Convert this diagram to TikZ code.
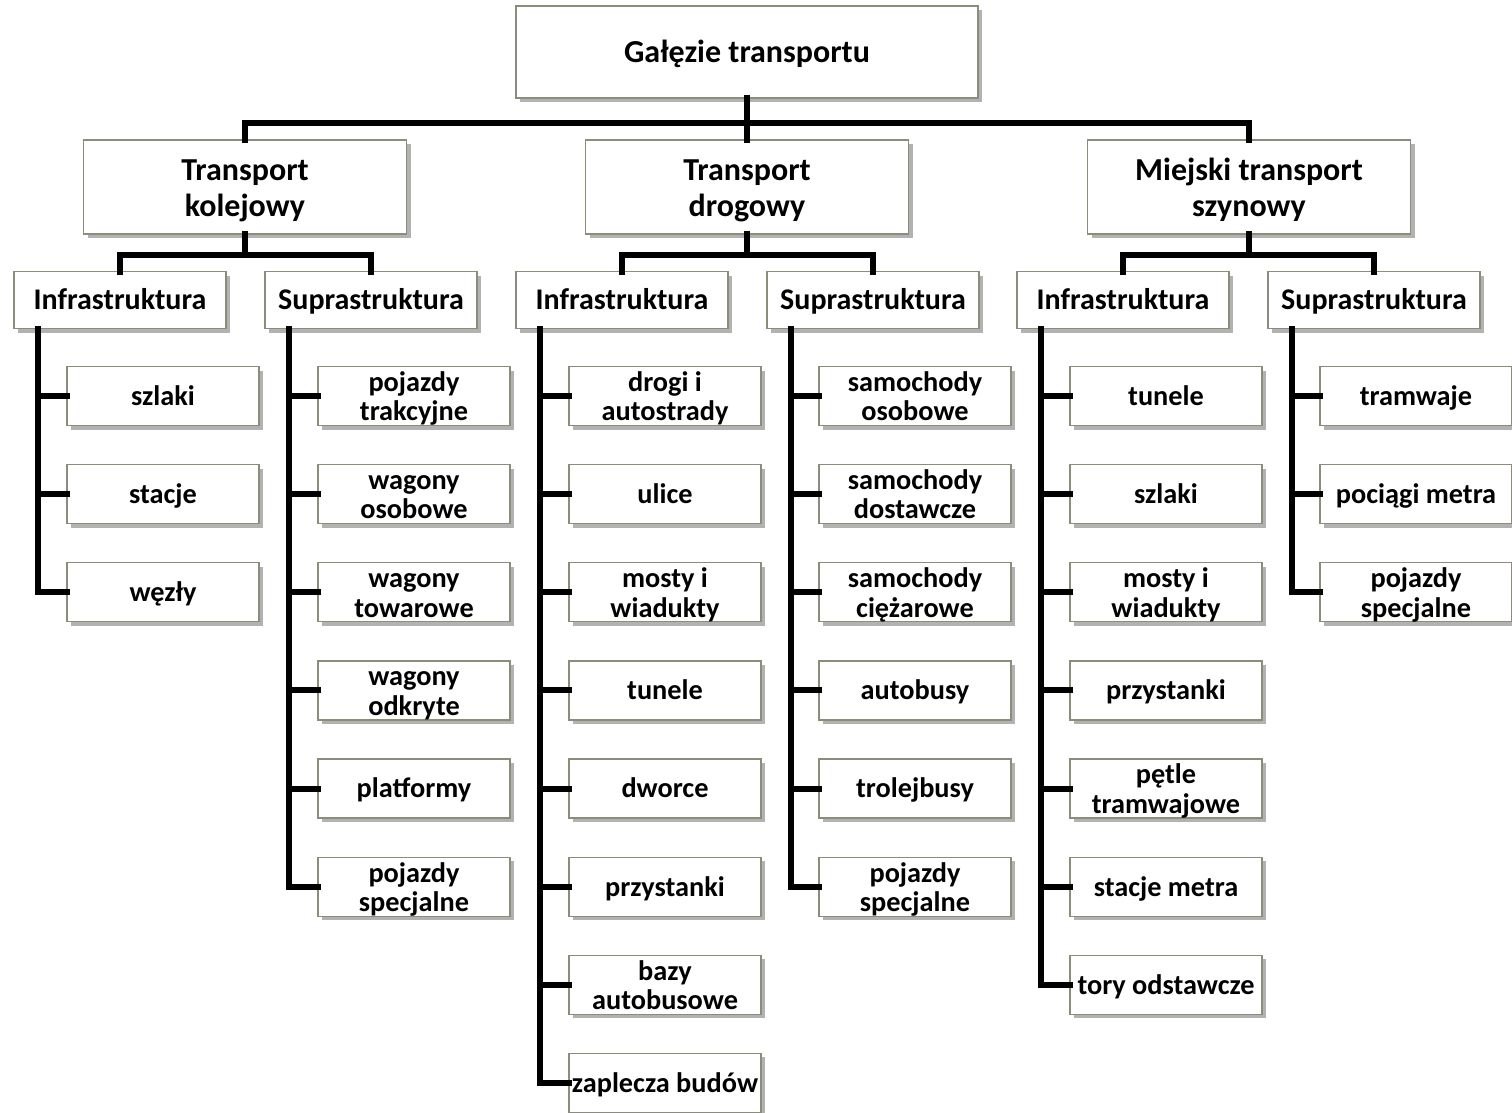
\documentclass[tikz,border=0pt]{standalone}
\usepackage{fontspec}
\setmainfont{Carlito}
\usetikzlibrary{shadows,calc}
\definecolor{boxline}{RGB}{140,140,122}
% strut that centres the cap height of each line block in its box
\newcommand{\capstrut}{\rule[-0.22em]{0pt}{1.1em}}
% two-line label, set a touch lower in its box
\newcommand{\twolines}[2]{\rule{0pt}{0.93em}#1\\#2}
\begin{document}
\begin{tikzpicture}[x=1pt,y=-1pt,
  box/.style={draw=boxline, line width=1.3pt, fill=white, inner xsep=0pt, inner ysep=-6pt,
    outer sep=0pt, align=center,
    execute at begin node=\capstrut, execute at end node=\capstrut,
    drop shadow={shadow xshift=4pt, shadow yshift=-4pt, fill=black, opacity=0.3}},
  rootbox/.style={box, minimum width=462, minimum height=92, font=\fontsize{32}{36}\selectfont\bfseries},
  branchbox/.style={box, minimum width=323, minimum height=94, font=\fontsize{32}{36}\selectfont\bfseries},
  catbox/.style={box, minimum width=212, minimum height=57, font=\fontsize{30}{33}\selectfont\bfseries},
  leafbox/.style={box, minimum width=192, minimum height=59, font=\fontsize{28.3}{29.5}\selectfont\bfseries},
  conn/.style={line width=6pt, line join=miter, line cap=rect}]
\useasboundingbox (0,0) rectangle (1512,1112);

% root and branches
\node[rootbox] (root) at (747,52) {Gałęzie transportu};
\node[branchbox] (rail) at (245,187) {\twolines{Transport}{kolejowy}};
\node[branchbox] (road) at (747,187) {\twolines{Transport}{drogowy}};
\node[branchbox] (city) at (1249,187) {\twolines{Miejski transport}{szynowy}};

\coordinate (bus) at (747,123);
\draw[conn] (root.south) -- (road.north);
\draw[conn] (rail.north) |- (bus) -| (city.north);

% categories
\node[catbox] (railI) at (120,300) {Infrastruktura};
\node[catbox] (railS) at (371,300) {Suprastruktura};
\node[catbox] (roadI) at (622,300) {Infrastruktura};
\node[catbox] (roadS) at (873,300) {Suprastruktura};
\node[catbox] (cityI) at (1123,300) {Infrastruktura};
\node[catbox] (cityS) at (1374,300) {Suprastruktura};

\foreach \b in {rail,road,city}{
  \coordinate (\b bus) at ($(\b.south)+(0,21)$);
  \draw[conn] (\b.south) -- (\b bus);
  \draw[conn] (\b I.north) |- (\b bus) -| (\b S.north);
}

% trunks below categories
\foreach \c in {railI,railS,roadI,roadS,cityI,cityS}{
  \coordinate (\c T) at ($(\c.south west)+(24,0)$);
}

% leaves
\foreach \t [count=\i] in {szlaki, stacje, węzły}{
  \node[leafbox] (railI\i) at (163,{396+98.14*(\i-1)}) {\t};
  \draw[conn] (railIT) |- (railI\i.west);
}
\foreach \t [count=\i] in {{\twolines{pojazdy}{trakcyjne}}, {\twolines{wagony}{osobowe}},
    {\twolines{wagony}{towarowe}}, {\twolines{wagony}{odkryte}}, platformy,
    {\twolines{pojazdy}{specjalne}}}{
  \node[leafbox] (railS\i) at (414,{396+98.14*(\i-1)}) {\t};
  \draw[conn] (railST) |- (railS\i.west);
}
\foreach \t [count=\i] in {{\twolines{drogi i}{autostrady}}, ulice, {\twolines{mosty i}{wiadukty}},
    tunele, dworce, przystanki, {\twolines{bazy}{autobusowe}}, zaplecza budów}{
  \node[leafbox] (roadI\i) at (665,{396+98.14*(\i-1)}) {\t};
  \draw[conn] (roadIT) |- (roadI\i.west);
}
\foreach \t [count=\i] in {{\twolines{samochody}{osobowe}}, {\twolines{samochody}{dostawcze}},
    {\twolines{samochody}{ciężarowe}}, autobusy, trolejbusy, {\twolines{pojazdy}{specjalne}}}{
  \node[leafbox] (roadS\i) at (915,{396+98.14*(\i-1)}) {\t};
  \draw[conn] (roadST) |- (roadS\i.west);
}
\foreach \t [count=\i] in {tunele, szlaki, {\twolines{mosty i}{wiadukty}}, przystanki,
    {\twolines{pętle}{tramwajowe}}, stacje metra, tory odstawcze}{
  \node[leafbox] (cityI\i) at (1166,{396+98.14*(\i-1)}) {\t};
  \draw[conn] (cityIT) |- (cityI\i.west);
}
\foreach \t [count=\i] in {tramwaje, pociągi metra, {\twolines{pojazdy}{specjalne}}}{
  \node[leafbox] (cityS\i) at (1416,{396+98.14*(\i-1)}) {\t};
  \draw[conn] (cityST) |- (cityS\i.west);
}
\end{tikzpicture}
\end{document}
